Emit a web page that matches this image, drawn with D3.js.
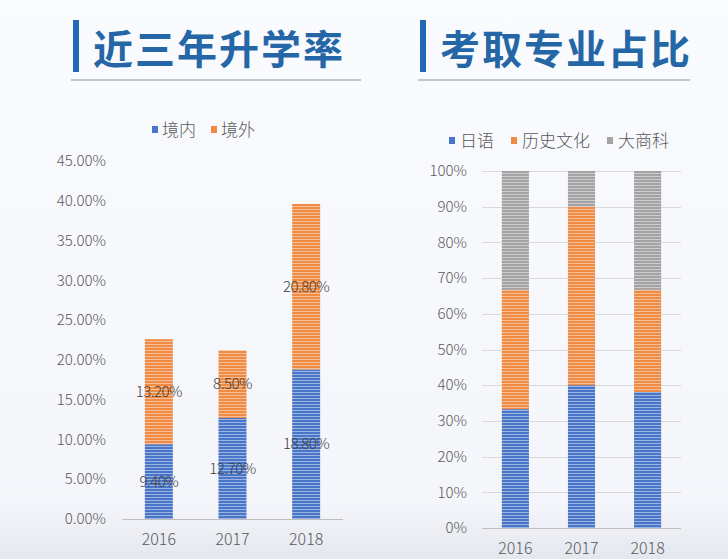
<!DOCTYPE html>
<html>
<head>
<meta charset="utf-8">
<script src="https://cdn.jsdelivr.net/npm/d3@7"></script>
<style>
  body { margin: 0; background: #f8f9fd; }
  svg { display: block; }
  text { font-family: "Noto Sans CJK SC", "DejaVu Sans", sans-serif; }
  .thin { font-weight: 300; }
</style>
</head>
<body>
<svg id="chart" width="728" height="559"></svg>
<script>
// left chart: rate of further study
var years = ["2016", "2017", "2018"];
var domestic = [0.094, 0.127, 0.188];
var abroad = [0.132, 0.085, 0.208];
var rateTicks = [0, 0.05, 0.10, 0.15, 0.20, 0.25, 0.30, 0.35, 0.40, 0.45];

// right chart: major share
var majorNames = ["日语", "历史文化", "大商科"];
var japanese = [0.333, 0.40, 0.381];
var historyCulture = [0.334, 0.50, 0.286];
var business = [0.333, 0.10, 0.333];

var blue = "#4a76c9", orange = "#ef8b43", gray = "#a3a3a3";

var svg = d3.select("#chart");
var defs = svg.append("defs");

// background with faint bottom haze
var bg = defs.append("linearGradient").attr("id", "bg").attr("x1", 0).attr("y1", 0).attr("x2", 0).attr("y2", 1);
bg.append("stop").attr("offset", "0").attr("stop-color", "#fafbfe");
bg.append("stop").attr("offset", "0.9").attr("stop-color", "#f5f6fb");
bg.append("stop").attr("offset", "1").attr("stop-color", "#e4e7ee");
svg.append("rect").attr("width", 728).attr("height", 559).attr("fill", "url(#bg)");

// striped fills like the original bars
function stripes(id, color) {
  var p = defs.append("pattern").attr("id", id).attr("patternUnits", "userSpaceOnUse")
    .attr("width", 8).attr("height", 3);
  p.append("rect").attr("width", 8).attr("height", 3).attr("fill", color);
  p.append("rect").attr("y", 2).attr("width", 8).attr("height", 1).attr("fill", "#fff").attr("opacity", 0.45);
}
stripes("s-blue", blue);
stripes("s-orange", orange);
stripes("s-gray", gray);

// titles
function title(x, y, w, txt) {
  svg.append("rect").attr("x", x).attr("y", y).attr("width", 6).attr("height", 52).attr("fill", "#1f6ab3");
  svg.append("text").attr("x", x + 20).attr("y", y + 44).text(txt)
    .attr("font-size", 40).attr("font-weight", 700).attr("fill", "#2466a6").attr("letter-spacing", 2);
  svg.append("line").attr("x1", x - 2).attr("x2", x + w).attr("y1", y + 60).attr("y2", y + 60)
    .attr("stroke", "#8a8f99").attr("stroke-width", 1);
}
title(73, 20, 288, "近三年升学率");
title(420, 20, 270, "考取专业占比");

// ---------- left chart ----------
var xL = d3.scaleBand().domain(years).range([122, 343]).paddingInner(0.62).paddingOuter(0.31);
var yL = d3.scaleLinear().domain([0, 0.45]).range([519, 161]);

var gL = svg.append("g");
gL.selectAll(".tick-l").data(rateTicks).join("text").attr("class", "thin")
  .attr("x", 106).attr("y", function (d) { return yL(d); }).attr("dy", "0.35em")
  .attr("text-anchor", "end").attr("font-size", 15).attr("fill", "#595959")
  .text(function (d) { return d3.format(".2%")(d); });

var stackL = years.map(function (y, i) {
  return [
    { year: y, y0: 0, y1: domestic[i], v: domestic[i], fill: "url(#s-blue)" },
    { year: y, y0: domestic[i], y1: domestic[i] + abroad[i], v: abroad[i], fill: "url(#s-orange)" }
  ];
});
var segL = [].concat.apply([], stackL);
gL.selectAll(".bar-l").data(segL).join("rect")
  .attr("x", function (d) { return xL(d.year); }).attr("width", xL.bandwidth())
  .attr("y", function (d) { return yL(d.y1); })
  .attr("height", function (d) { return yL(d.y0) - yL(d.y1); })
  .attr("fill", function (d) { return d.fill; });
gL.append("line").attr("x1", 122).attr("x2", 343).attr("y1", yL(0) + 0.5).attr("y2", yL(0) + 0.5)
  .attr("stroke", "#bfbfbf").attr("stroke-width", 1);
gL.selectAll(".lab-l").data(segL).join("text").attr("class", "thin")
  .attr("x", function (d) { return xL(d.year) + xL.bandwidth() / 2; })
  .attr("y", function (d) { return yL((d.y0 + d.y1) / 2); }).attr("dy", "0.35em")
  .attr("text-anchor", "middle").attr("font-size", 15).attr("fill", "#404040")
  .attr("letter-spacing", -0.5)
  .text(function (d) { return d3.format(".2%")(d.v); });
gL.selectAll(".yr-l").data(years).join("text").attr("class", "thin")
  .attr("x", function (d) { return xL(d) + xL.bandwidth() / 2; }).attr("y", 539).attr("dy", "0.35em")
  .attr("text-anchor", "middle").attr("font-size", 16).attr("fill", "#595959").text(function (d) { return d; });

// legend left
var legL = [{ name: "境内", fill: blue, x: 152 }, { name: "境外", fill: orange, x: 211 }];
legL.forEach(function (l) {
  svg.append("rect").attr("x", l.x).attr("y", 126).attr("width", 6).attr("height", 7).attr("fill", l.fill);
  svg.append("text").attr("class", "thin").attr("x", l.x + 10).attr("y", 130).attr("dy", "0.35em")
    .attr("font-size", 17).attr("fill", "#595959").text(l.name);
});

// ---------- right chart ----------
var xR = d3.scaleBand().domain(years).range([482, 681]).paddingInner(0.59).paddingOuter(0.3);
var yR = d3.scaleLinear().domain([0, 1]).range([528, 171]);
var gR = svg.append("g");
var pctTicks = d3.range(0, 11).map(function (i) { return i / 10; });
gR.selectAll(".grid").data(pctTicks.slice(1)).join("line")
  .attr("x1", 482).attr("x2", 681)
  .attr("y1", function (d) { return Math.round(yR(d)) + 0.5; })
  .attr("y2", function (d) { return Math.round(yR(d)) + 0.5; })
  .attr("stroke", "#d9d9d9").attr("stroke-width", 1);
gR.selectAll(".tick-r").data(pctTicks).join("text").attr("class", "thin")
  .attr("x", 467).attr("y", function (d) { return yR(d); }).attr("dy", "0.35em")
  .attr("text-anchor", "end").attr("font-size", 15).attr("fill", "#595959")
  .text(function (d) { return d3.format(".0%")(d); });

var seriesR = [japanese, historyCulture, business];
var fillR = ["url(#s-blue)", "url(#s-orange)", "url(#s-gray)"];
var segR = [];
years.forEach(function (y, i) {
  var acc = 0;
  seriesR.forEach(function (s, k) {
    segR.push({ year: y, y0: acc, y1: acc + s[i], fill: fillR[k] });
    acc += s[i];
  });
});
gR.selectAll(".bar-r").data(segR).join("rect")
  .attr("x", function (d) { return xR(d.year); }).attr("width", xR.bandwidth())
  .attr("y", function (d) { return yR(Math.min(d.y1, 1)); })
  .attr("height", function (d) { return yR(d.y0) - yR(Math.min(d.y1, 1)); })
  .attr("fill", function (d) { return d.fill; });
gR.append("line").attr("x1", 482).attr("x2", 681).attr("y1", yR(0) + 0.5).attr("y2", yR(0) + 0.5)
  .attr("stroke", "#bfbfbf").attr("stroke-width", 1);
gR.selectAll(".yr-r").data(years).join("text").attr("class", "thin")
  .attr("x", function (d) { return xR(d) + xR.bandwidth() / 2; }).attr("y", 548).attr("dy", "0.35em")
  .attr("text-anchor", "middle").attr("font-size", 16).attr("fill", "#595959").text(function (d) { return d; });

// legend right
var legXs = [449, 511, 607];
var legColors = [blue, orange, gray];
majorNames.forEach(function (n, i) {
  svg.append("rect").attr("x", legXs[i]).attr("y", 137).attr("width", 6).attr("height", 7).attr("fill", legColors[i]);
  svg.append("text").attr("class", "thin").attr("x", legXs[i] + 11).attr("y", 141).attr("dy", "0.35em")
    .attr("font-size", 17).attr("fill", "#595959").text(n);
});
</script>
</body>
</html>
